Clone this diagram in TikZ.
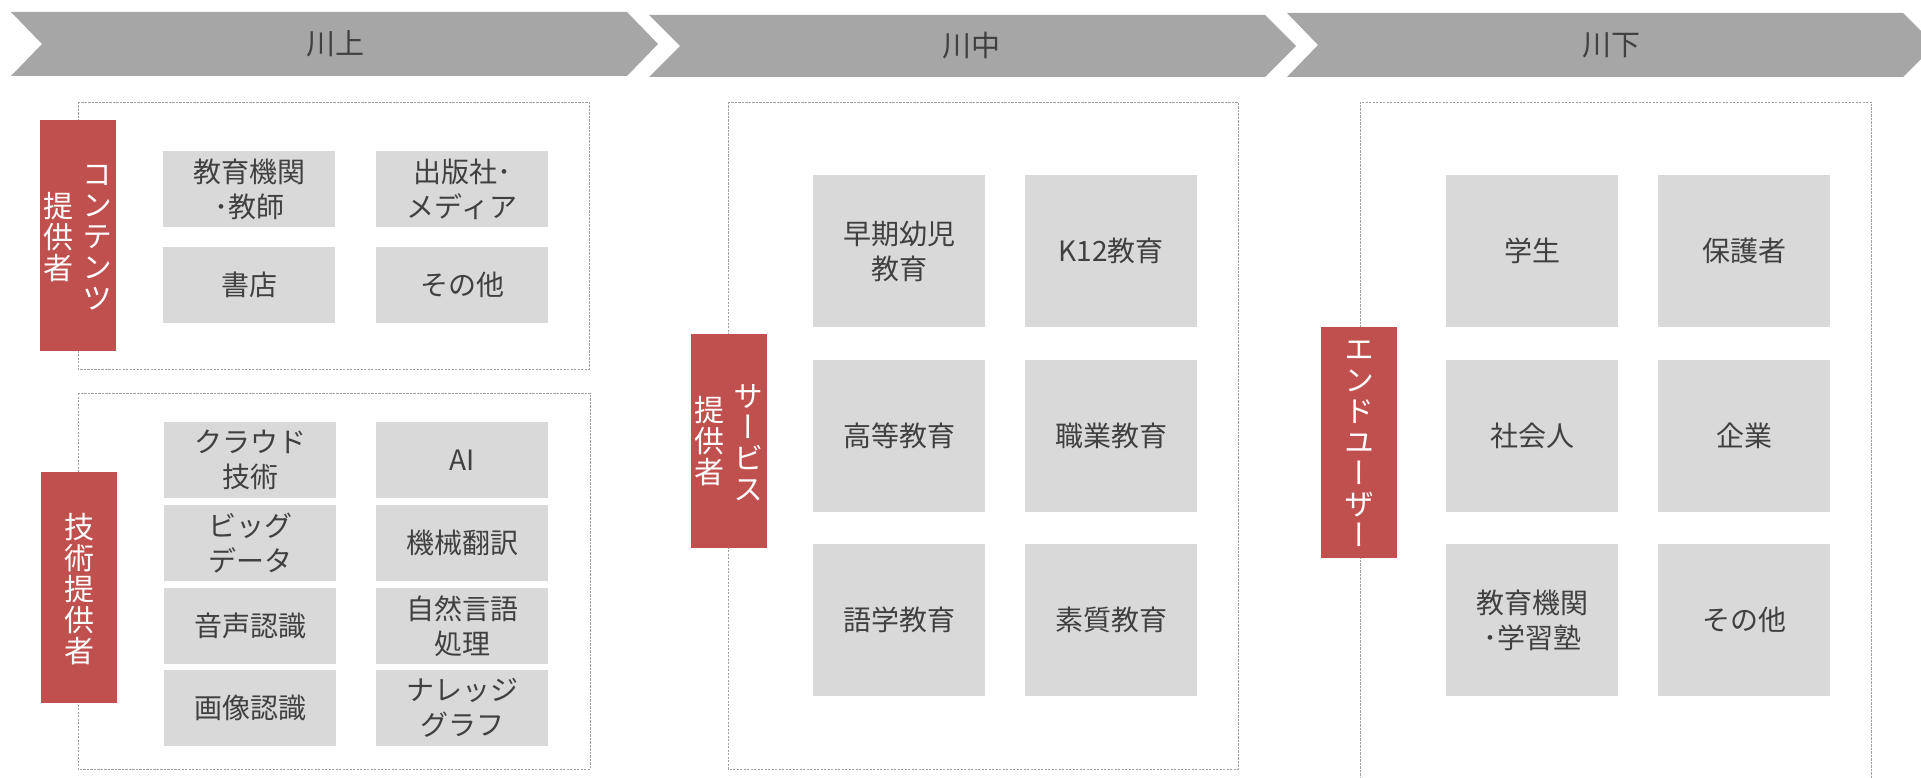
\documentclass[tikz,border=0pt]{standalone}
\usepackage{fontspec}
\newfontfamily\jp{Noto Sans CJK JP}
\newfontfamily\vjp[RawFeature=+vert]{Noto Sans CJK JP}
\definecolor{bannergray}{HTML}{A6A6A6}
\definecolor{boxgray}{HTML}{D9D9D9}
\definecolor{labelred}{HTML}{C0504D}
\definecolor{txt}{HTML}{404040}
\definecolor{dashgray}{HTML}{A0A0A0}
\tikzset{
  bantext/.style={text=txt, font=\jp\fontsize{29}{32}\selectfont, inner sep=0pt},
  dbox/.style={draw=dashgray, line width=0.9pt, dash pattern=on 2.2pt off 1.3pt},
  gsmall/.style={fill=boxgray, inner sep=0pt, align=center, text=txt,
    font=\jp\fontsize{28}{35}\selectfont, minimum width=172pt, minimum height=76pt},
  gbig/.style={gsmall, minimum height=152pt},
  redlabel/.style={fill=labelred, inner sep=0pt, minimum width=76pt},
  vtext/.style={text=white, align=center, inner sep=0pt,
    font=\vjp\fontsize{30}{31}\selectfont}
}
\begin{document}
\begin{tikzpicture}[x=1pt,y=-1pt]
\useasboundingbox (0,0) rectangle (1921,778);
% banners
\fill[bannergray] (11,12) -- (627,12) -- (658,44) -- (627,76) -- (11,76) -- (42,44) -- cycle;
\fill[bannergray] (649,15) -- (1265,15) -- (1296,46) -- (1265,77) -- (649,77) -- (680,46) -- cycle;
\fill[bannergray] (1287,13) -- (1903,13) -- (1935,45) -- (1903,77) -- (1287,77) -- (1318,45) -- cycle;
\node[bantext] (b1) at (335,44) {川上};
\node[bantext] (b2) at (971,46) {川中};
\node[bantext] (b3) at (1611,45) {川下};
% dashed frames
\draw[dbox] (78,102) rectangle (589,369);
\draw[dbox] (78,393) rectangle (590,769);
\draw[dbox] (728,102) rectangle (1238,769);
\draw[dbox] (1360,800) -- (1360,102) -- (1871,102) -- (1871,800);
% red labels
\node[redlabel, minimum height=231pt] (l1) at (78,235.5) {};
\node[vtext] (l1a) at (97.5,237.5) {コ\\ン\\テ\\ン\\ツ};
\node[vtext] (l1b) at (58.5,237.5) {提\\供\\者};
\node[redlabel, minimum height=231pt] (l2) at (79,587.5) {};
\node[vtext] (l2a) at (79,589) {技\\術\\提\\供\\者};
\node[redlabel, minimum height=214pt] (l3) at (729,441) {};
\node[vtext] (l3a) at (748.5,443) {サ\\ー\\ビ\\ス};
\node[vtext] (l3b) at (709.5,441) {提\\供\\者};
\node[redlabel, minimum height=231pt] (l4) at (1359,442.5) {};
\node[vtext] (l4a) at (1359,444) {エ\\ン\\ド\\ユ\\ー\\ザ\\ー};
% upstream: content providers
\node[gsmall] (u1) at (249,189) {教育機関\\･教師};
\node[gsmall] (u2) at (462,189) {出版社･\\メディア};
\node[gsmall] (u3) at (249,285) {書店};
\node[gsmall] (u4) at (462,285) {その他};
% upstream: technology providers
\node[gsmall] (t1) at (250,460) {クラウド\\技術};
\node[gsmall] (t2) at (462,460) {AI};
\node[gsmall] (t3) at (250,543) {ビッグ\\データ};
\node[gsmall] (t4) at (462,543) {機械翻訳};
\node[gsmall] (t5) at (250,626) {音声認識};
\node[gsmall] (t6) at (462,626) {自然言語\\処理};
\node[gsmall] (t7) at (250,708) {画像認識};
\node[gsmall] (t8) at (462,708) {ナレッジ\\グラフ};
% midstream
\node[gbig] (m1) at (899,251) {早期幼児\\教育};
\node[gbig] (m2) at (1111,251) {K12教育};
\node[gbig] (m3) at (899,436) {高等教育};
\node[gbig] (m4) at (1111,436) {職業教育};
\node[gbig] (m5) at (899,620) {語学教育};
\node[gbig] (m6) at (1111,620) {素質教育};
% downstream
\node[gbig] (d1) at (1532,251) {学生};
\node[gbig] (d2) at (1744,251) {保護者};
\node[gbig] (d3) at (1532,436) {社会人};
\node[gbig] (d4) at (1744,436) {企業};
\node[gbig] (d5) at (1532,620) {教育機関\\･学習塾};
\node[gbig] (d6) at (1744,620) {その他};
\end{tikzpicture}
\end{document}
